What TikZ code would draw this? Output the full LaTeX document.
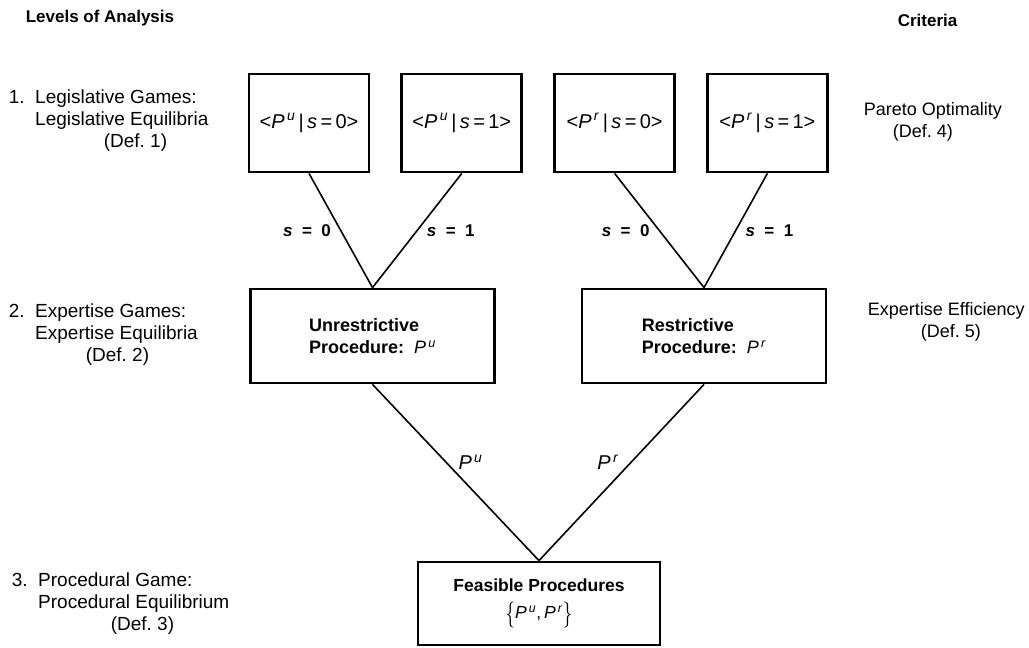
\documentclass[tikz,border=0pt]{standalone}
\usepackage{fontspec}
\setmainfont{Liberation Sans}
\usetikzlibrary{positioning}

\newcommand{\procU}{\textit{P}\textsuperscript{\,\textit{u}}}
\newcommand{\procR}{\textit{P}\textsuperscript{\,\textit{r}}}
\newcommand{\tallbrace}[1]{\raisebox{-3pt}{\scalebox{1.1}[1.5]{$#1$}}}

\begin{document}
\begin{tikzpicture}[x=1pt,y=-1pt,line width=1.6pt,node distance=30pt,
    font=\fontsize{18}{22}\selectfont]
    \tikzstyle{outcome}=[draw,line width=2.8pt,minimum width=120pt,minimum height=98pt,inner sep=0pt,
      font=\fontsize{20}{24}\selectfont]
    \tikzstyle{procedure}=[draw,line width=2.8pt,minimum width=244pt,minimum height=94pt,align=left,
      font=\fontsize{18}{22}\selectfont\bfseries]
    \tikzstyle{level}=[anchor=west,align=left,inner sep=0pt,font=\fontsize{19}{22}\selectfont]
    \tikzstyle{criterion}=[anchor=west,align=left,inner sep=0pt]
    \tikzstyle{heading}=[anchor=west,inner sep=0pt,font=\fontsize{17}{20}\selectfont\bfseries]
    \tikzstyle{branch}=[inner xsep=9pt,font=\fontsize{17}{20}\selectfont\bfseries]
    \useasboundingbox (0,0) rectangle (1029,648);

    \node [heading] (levels) at (25,18) {Levels of Analysis};
    \node [heading] (criteria) at (897,20) {Criteria};

    % level 1: legislative games
    \node [outcome] (pu0) at (309,123) {<\procU\,|\,\textit{s}\,=\,0>};
    \node [outcome,right=of pu0] (pu1) {<\procU\,|\,\textit{s}\,=\,1>};
    \node [outcome,right=of pu1] (pr0) {<\procR\,|\,\textit{s}\,=\,0>};
    \node [outcome,right=of pr0] (pr1) {<\procR\,|\,\textit{s}\,=\,1>};

    % level 2: expertise games
    \node [procedure] (unres) at (372.5,336) {Unrestrictive\\Procedure:\ \ \textmd{\procU}};
    \node [procedure] (restr) at (704,336) {Restrictive\\Procedure:\ \ \textmd{\procR}};

    % level 3: procedural game
    \node [procedure,minimum width=242pt,minimum height=83pt,align=center,font=\fontsize{17.5}{27}\selectfont\bfseries]
      (feas) at (539,603.5) {Feasible Procedures\\\textmd{\tallbrace{\{}\procU,\,\procR\tallbrace{\}}}};

    \path (pu0.south) edge node [branch,left] {\textit{s}\ \ =\ \ 0} (unres.north)
          (pu1.south) edge node [branch,right] {\textit{s}\ \ =\ \ 1} (unres.north)
          (pr0.south) edge node [branch,left] {\textit{s}\ \ =\ \ 0} (restr.north)
          (pr1.south) edge node [branch,right] {\textit{s}\ \ =\ \ 1} (restr.north)
          (unres.south) edge node [anchor=south west,inner sep=2pt,font=\fontsize{20}{24}\selectfont] {\procU} (feas.north)
          (restr.south) edge node [anchor=south east,inner sep=2pt,font=\fontsize{20}{24}\selectfont] {\procR} (feas.north);

    \node [level] (lvl1) at (8,121) {1.\ \ Legislative Games:\\\hphantom{1.\ \ }Legislative Equilibria\\\hspace*{95pt}(Def.\ 1)};
    \node [level] (lvl2) at (8,335) {2.\ \ Expertise Games:\\\hphantom{2.\ \ }Expertise Equilibria\\\hspace*{77pt}(Def.\ 2)};
    \node [level] (lvl3) at (11,604) {3.\ \ Procedural Game:\\\hphantom{3.\ \ }Procedural Equilibrium\\\hspace*{99pt}(Def.\ 3)};

    \node [criterion] (pareto) at (863,122) {Pareto Optimality\\\hspace*{29pt}(Def.\ 4)};
    \node [criterion] (effic) at (867,322) {Expertise Efficiency\\\hspace*{53pt}(Def.\ 5)};
  \end{tikzpicture}
\end{document}
